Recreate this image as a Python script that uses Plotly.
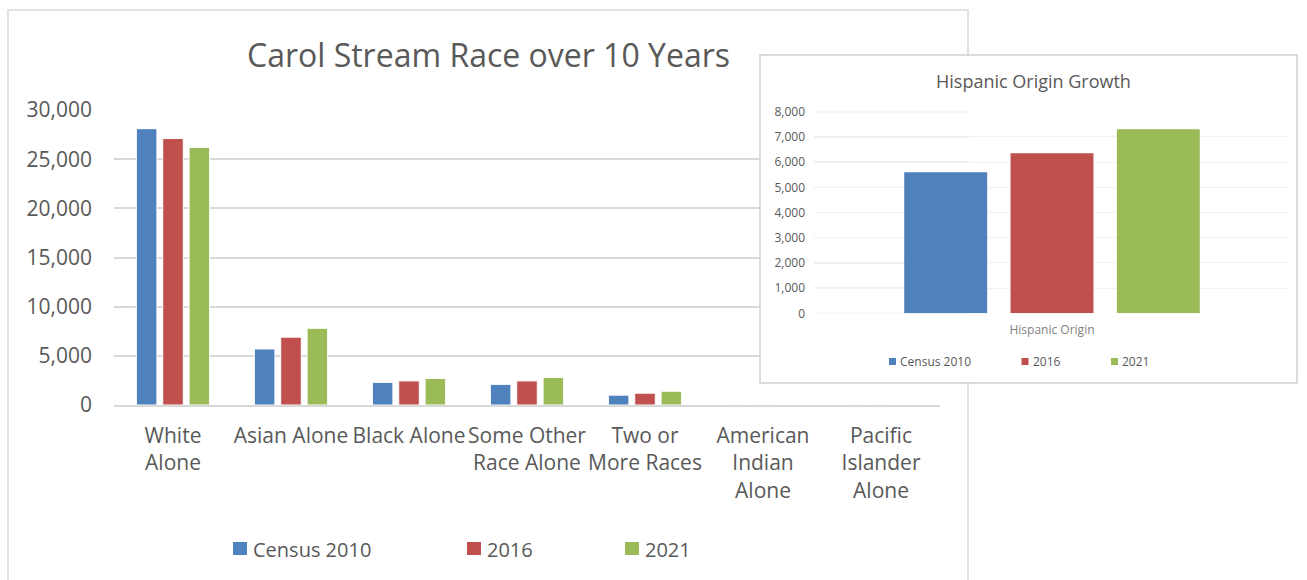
import plotly.graph_objects as go

# ---- data ---------------------------------------------------------------
categories = ["White Alone", "Asian Alone", "Black Alone", "Some Other Race Alone",
              "Two or More Races", "American Indian Alone", "Pacific Islander Alone"]
category_ticks = ["White<br>Alone", "Asian Alone", "Black Alone", "Some Other<br>Race Alone",
                  "Two or<br>More Races", "American<br>Indian<br>Alone",
                  "Pacific<br>Islander<br>Alone"]
census_2010 = [28100, 5700, 2300, 2100, 1000, 30, 10]
pop_2016 = [27100, 6900, 2450, 2450, 1200, 30, 10]
pop_2021 = [26200, 7800, 2700, 2800, 1400, 40, 10]

series_names = ["Census 2010", "2016", "2021"]
series_colors = ["#4f81bd", "#c0504d", "#9bbb59"]

hispanic_category = ["Hispanic Origin"]
hispanic_2010 = [5600]
hispanic_2016 = [6350]
hispanic_2021 = [7300]

race_ticks = [0, 5000, 10000, 15000, 20000, 25000, 30000]
hispanic_ticks = [0, 1000, 2000, 3000, 4000, 5000, 6000, 7000, 8000]

# ---- page geometry helpers (pixels -> paper fractions) -------------------
W, H = 1307, 580
FONT = "Open Sans, Calibri, sans-serif"
TEXT = "#595959"
GRID = "#d9d9d9"

INSET_X0, INSET_X1 = 814, 1290      # inset plot area, pixels
FRAME_EDGE = 969                    # right edge of the main frame behind the inset


def px(x):
    return x / W


def py(y):
    return 1 - y / H


fig = go.Figure()

# main chart: population by race
for name, color, vals in zip(series_names, series_colors, [census_2010, pop_2016, pop_2021]):
    fig.add_trace(go.Bar(x=categories, y=vals, name=name, marker_color=color,
                         marker_line=dict(color="white", width=1),
                         xaxis="x", yaxis="y", showlegend=False))

# blank panel that backs the Hispanic origin inset
fig.add_trace(go.Scatter(x=[], y=[], xaxis="x2", yaxis="y2", showlegend=False,
                         hoverinfo="skip"))

# inset chart: Hispanic origin
for name, color, vals in zip(series_names, series_colors,
                             [hispanic_2010, hispanic_2016, hispanic_2021]):
    fig.add_trace(go.Bar(x=hispanic_category, y=vals, name=name, marker_color=color,
                         marker_line_width=0, xaxis="x3", yaxis="y3", showlegend=False))

shapes = [
    # outer frame of the main chart
    dict(type="rect", xref="paper", yref="paper", x0=px(8), x1=px(968), y0=py(10), y1=py(590),
         line=dict(color=GRID, width=1.5), fillcolor="rgba(0,0,0,0)", layer="below"),
    # frame of the inset
    dict(type="rect", xref="paper", yref="paper", x0=px(760), x1=px(1297), y0=py(55), y1=py(383),
         line=dict(color="#d0d0d0", width=1.5), fillcolor="rgba(0,0,0,0)", layer="above"),
]

# the pasted inset keeps crisp gridlines only where it overlaps the main frame;
# further right they are washed out
left_cut = -0.5 + (FRAME_EDGE - INSET_X0) / (INSET_X1 - INSET_X0)
for t in hispanic_ticks:
    shapes.append(dict(type="line", xref="x3", yref="y3", x0=-0.5, x1=left_cut, y0=t, y1=t,
                       line=dict(color=GRID, width=1), layer="below"))

annotations = [
    dict(text="Hispanic Origin Growth", x=px(1033.5), y=py(80.5), xref="paper", yref="paper",
         xanchor="center", yanchor="middle", showarrow=False,
         font=dict(family=FONT, size=18, color=TEXT)),
]

# legend keys for the main chart
for color, name, kx in zip(series_colors, series_names, [233, 467, 625]):
    shapes.append(dict(type="rect", xref="paper", yref="paper", x0=px(kx), x1=px(kx + 14),
                       y0=py(542), y1=py(555), fillcolor=color, line_width=0))
    annotations.append(dict(text=name, x=px(kx + 19), y=py(549), xref="paper", yref="paper",
                            xanchor="left", yanchor="middle", showarrow=False, borderpad=0,
                            font=dict(family=FONT, size=20, color=TEXT)))

# legend keys for the inset
for color, name, kx in zip(series_colors, series_names, [889, 1021.5, 1111]):
    shapes.append(dict(type="rect", xref="paper", yref="paper", x0=px(kx), x1=px(kx + 7),
                       y0=py(358), y1=py(365), fillcolor=color, line_width=0))
    annotations.append(dict(text=name, x=px(kx + 10), y=py(361.5), xref="paper", yref="paper",
                            xanchor="left", yanchor="middle", showarrow=False, borderpad=0,
                            font=dict(family=FONT, size=12, color=TEXT)))

fig.update_layout(
    width=W, height=H,
    margin=dict(l=0, r=0, t=0, b=0, pad=0, autoexpand=False),
    paper_bgcolor="white", plot_bgcolor="white",
    barmode="group", bargap=0.33, bargroupgap=0.22,
    font=dict(family=FONT, color=TEXT),
    title=dict(text="Carol Stream Race over 10 Years", x=px(488.5), y=py(56),
               xref="paper", yref="paper", xanchor="center", yanchor="middle",
               automargin=False,
               font=dict(family=FONT, size=32, color=TEXT)),
    xaxis=dict(domain=[px(114), px(940)], anchor="y", type="category",
               categoryorder="array", categoryarray=categories,
               tickvals=categories, ticktext=category_ticks, tickangle=0,
               tickfont=dict(family=FONT, size=21, color=TEXT),
               showline=True, linecolor=GRID, linewidth=1.5, showgrid=False,
               ticks="", ticklabelstandoff=11, automargin=False, fixedrange=True),
    yaxis=dict(domain=[py(405), py(110)], anchor="x", range=[0, 30000],
               tickvals=race_ticks, tickformat=",", showgrid=True,
               gridcolor=GRID, gridwidth=1.5, zeroline=False, showline=False,
               tickfont=dict(family=FONT, size=21, color=TEXT),
               ticks="", ticklabelstandoff=21, automargin=False, fixedrange=True),
    xaxis2=dict(domain=[px(760), px(1297)], anchor="y2", visible=False,
                automargin=False, fixedrange=True),
    yaxis2=dict(domain=[py(383), py(55)], anchor="x2", visible=False,
                automargin=False, fixedrange=True),
    xaxis3=dict(domain=[px(INSET_X0), px(INSET_X1)], anchor="y3", type="category",
                range=[-0.5, 0.5],
                tickfont=dict(family=FONT, size=12, color="#7f7f7f"),
                showline=False, showgrid=False, ticks="", ticklabelstandoff=8,
                automargin=False, fixedrange=True),
    yaxis3=dict(domain=[py(313.3), py(111.7)], anchor="x3", range=[0, 8000],
                tickvals=hispanic_ticks, tickformat=",", showgrid=True,
                gridcolor="#f1f1f1", gridwidth=1, zeroline=False, showline=False,
                tickfont=dict(family=FONT, size=12, color=TEXT),
                ticks="", ticklabelstandoff=8, automargin=False, fixedrange=True),
    shapes=shapes,
    annotations=annotations,
)

fig.write_html("out.html")
